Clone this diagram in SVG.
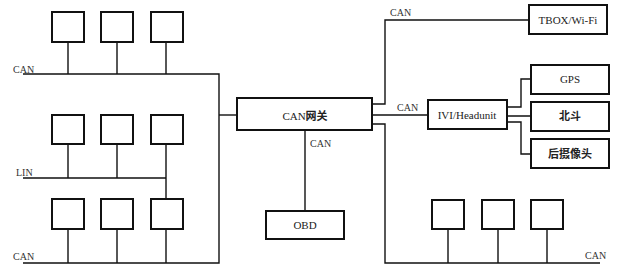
<svg xmlns="http://www.w3.org/2000/svg" width="634" height="268" viewBox="0 0 634 268">
<style>
.box{fill:#fff;stroke:#111;stroke-width:2}
.ln{fill:none;stroke:#111;stroke-width:1.4}
.t{font-family:"Liberation Serif","Noto Sans CJK SC",serif;font-size:11px;fill:#222;text-anchor:middle}
.cj{font-weight:bold}
.l{font-family:"Liberation Serif","Noto Sans CJK SC",serif;font-size:10px;fill:#333}
</style>
<rect width="634" height="268" fill="#fff"/>
<g id="connectors">
<path class="ln" d="M23 74H219V263H23M68 42V74M117 42V74M166 42V74"/>
<path class="ln" d="M23 178H166M68 144V178M117 144V178M166 144V199"/>
<path class="ln" d="M68 229V263M117 229V263M166 229V263"/>
<path class="ln" d="M219 115H237"/>
<path class="ln" d="M305 130V211"/>
<path class="ln" d="M372 104H385V20H529"/>
<path class="ln" d="M372 115H428"/>
<path class="ln" d="M372 124H385V263H600M448 229V263M498 229V263M547 229V263"/>
<path class="ln" d="M507 107H521V79H531M507 116H531M507 122H521V154H531"/>
<text class="l" x="13" y="73">CAN</text>
<text class="l" x="16" y="176">LIN</text>
<text class="l" x="13" y="260">CAN</text>
<text class="l" x="390" y="16">CAN</text>
<text class="l" x="397" y="111">CAN</text>
<text class="l" x="310" y="147">CAN</text>
<text class="l" x="585" y="259">CAN</text>
</g>
<g id="n1"><rect class="box" x="52" y="12" width="32" height="30"/></g>
<g id="n2"><rect class="box" x="101" y="12" width="32" height="30"/></g>
<g id="n3"><rect class="box" x="151" y="12" width="32" height="30"/></g>
<g id="n4"><rect class="box" x="52" y="115" width="32" height="29"/></g>
<g id="n5"><rect class="box" x="101" y="115" width="32" height="29"/></g>
<g id="n6"><rect class="box" x="151" y="115" width="32" height="29"/></g>
<g id="n7"><rect class="box" x="52" y="199" width="32" height="30"/></g>
<g id="n8"><rect class="box" x="101" y="199" width="32" height="30"/></g>
<g id="n9"><rect class="box" x="151" y="199" width="32" height="30"/></g>
<g id="gateway"><rect class="box" x="237" y="98" width="135" height="32"/><text class="t" x="305" y="120">CAN<tspan class="cj">网关</tspan></text></g>
<g id="obd"><rect class="box" x="266" y="211" width="78" height="28"/><text class="t" x="305" y="229">OBD</text></g>
<g id="tbox"><rect class="box" x="529" y="5" width="78" height="29"/><text class="t" x="568" y="24">TBOX/Wi-Fi</text></g>
<g id="ivi"><rect class="box" x="428" y="100" width="79" height="29"/><text class="t" x="467" y="119">IVI/Headunit</text></g>
<g id="gps"><rect class="box" x="531" y="65" width="78" height="29"/><text class="t" x="570" y="83">GPS</text></g>
<g id="beidou"><rect class="box" x="531" y="102" width="78" height="29"/><text class="t cj" x="570" y="120">北斗</text></g>
<g id="camera"><rect class="box" x="531" y="139" width="78" height="29"/><text class="t cj" x="570" y="158">后摄像头</text></g>
<g id="n10"><rect class="box" x="432" y="200" width="32" height="29"/></g>
<g id="n11"><rect class="box" x="482" y="200" width="32" height="29"/></g>
<g id="n12"><rect class="box" x="531" y="200" width="32" height="29"/></g>
</svg>
